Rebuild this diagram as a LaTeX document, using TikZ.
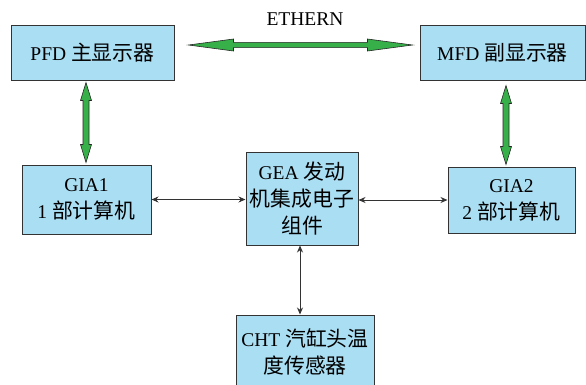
\documentclass[tikz,border=0pt]{standalone}
\usepackage{fontspec}
\setmainfont{Liberation Serif}
\newfontfamily\cjk[Scale=1.07]{Noto Sans CJK SC}
\usetikzlibrary{calc,arrows.meta}

\definecolor{boxfill}{RGB}{169,222,243}
\definecolor{boxline}{RGB}{51,51,51}
\definecolor{busgreen}{RGB}{56,176,74}

% fat green double-headed bus arrow: #1 tip, #2 tip, #3 head length, #4 head half width, #5 shaft half width
\newcommand\busarrow[5]{%
  \path (#1) coordinate (ta) (#2) coordinate (tb);
  \path ($(ta)!#3!(tb)$) coordinate (ha) ($(tb)!#3!(ta)$) coordinate (hb);
  \filldraw[fill=busgreen,draw=black!85,line width=0.6pt,line join=miter]
    (ta) -- ($(ha)!#4!90:(tb)$) -- ($(ha)!#5!90:(tb)$)
    -- ($(hb)!#5!-90:(ta)$) -- ($(hb)!#4!-90:(ta)$) -- (tb)
    -- ($(hb)!#4!90:(ta)$) -- ($(hb)!#5!90:(ta)$)
    -- ($(ha)!#5!-90:(tb)$) -- ($(ha)!#4!-90:(tb)$) -- cycle;
}

\begin{document}
\begin{tikzpicture}[x=1pt,y=-1pt,
  unit/.style={draw=boxline,fill=boxfill,line width=1pt,align=center,
    inner sep=0pt,font=\fontsize{19.5}{27}\selectfont},
  link/.style={draw=black!80,line width=0.9pt,
    {Stealth[length=7pt,width=6pt]}-{Stealth[length=7pt,width=6pt]}}]
\useasboundingbox (0,0) rectangle (586,384);

\node[unit,minimum width=163pt,minimum height=55pt] (pfd) at (92.5,52.5) {PFD {\cjk 主显示器}};
\node[unit,minimum width=165pt,minimum height=55pt] (mfd) at (502.5,52.5) {MFD {\cjk 副显示器}};
\node[unit,minimum width=129pt,minimum height=69pt] (gia1) at (86.5,199.5) {GIA1\\1 {\cjk 部计算机}};
\node[unit,minimum width=112pt,minimum height=93pt] (gea) at (302,198.5) {GEA {\cjk 发动}\\{\cjk 机集成电子}\\{\cjk 组件}};
\node[unit,minimum width=127pt,minimum height=66pt] (gia2) at (511.5,200) {GIA2\\2 {\cjk 部计算机}};
\node[unit,minimum width=138pt,minimum height=74pt] (cht) at (305,352) {CHT {\cjk 汽缸头温}\\{\cjk 度传感器}};

\node[font=\fontsize{19.5}{22}\selectfont] (eth) at (305,19) {ETHERN};

% green bus connections
\coordinate (e1) at ($(pfd.east)+(14,-7.5)$);
\coordinate (e2) at ($(mfd.west)+(-7,-7.5)$);
\busarrow{e1}{e2}{45pt}{6pt}{2.6pt}
\coordinate (v1) at ($(pfd.south)+(-6.5,2)$);
\coordinate (v2) at (v1 |- {$(gia1.north)+(0,-2)$});
\busarrow{v1}{v2}{18pt}{5.5pt}{3pt}
\coordinate (w1) at ($(mfd.south)+(3.5,5)$);
\coordinate (w2) at (w1 |- {$(gia2.north)+(0,-2)$});
\busarrow{w1}{w2}{18pt}{5.5pt}{3pt}

% engine data links
\draw[link] (gia1.east) -- (gea.west |- gia1.east);
\draw[link] (gea.east |- gia2.west) -- (gia2.west);
\draw[link] ($(gea.south)+(-2,0)$) -- ($(gea.south |- cht.north)+(-2,0)$);
\end{tikzpicture}
\end{document}
